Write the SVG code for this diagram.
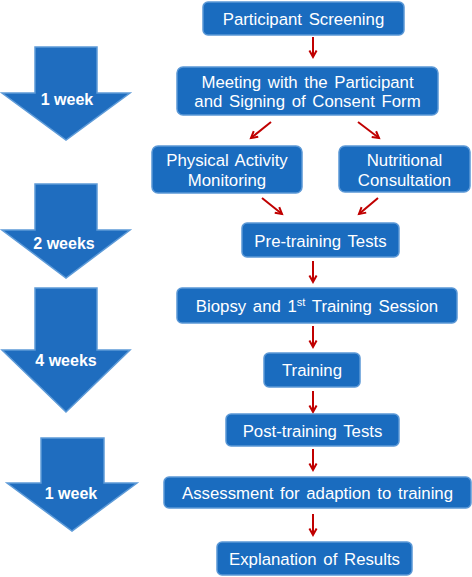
<svg xmlns="http://www.w3.org/2000/svg" width="472" height="577" viewBox="0 0 472 577">
<style>
.box{fill:#1a6cbf;stroke:#5b98d6;stroke-width:1.5}
.t{font-family:"Liberation Sans",Arial,sans-serif;font-size:16.8px;fill:#fff;text-anchor:middle;word-spacing:2px}
.big{fill:#1f6dbf;stroke:#5e9bd8;stroke-width:1.5}
.bl{font-family:"Liberation Sans",Arial,sans-serif;font-size:16px;font-weight:bold;fill:#fff;text-anchor:middle}
.c{stroke:#c00000;stroke-width:2;fill:none;marker-end:url(#ah)}
</style>
<defs>
<marker id="ah" viewBox="0 0 10 10" refX="8" refY="5" markerWidth="8" markerHeight="10" markerUnits="userSpaceOnUse" orient="auto" overflow="visible">
<path d="M0,0.5 L8,5 L0,9.5" fill="none" stroke="#c00000" stroke-width="2.5"/>
</marker>
</defs>
<g id="timeline">
<g id="w1a"><polygon class="big" points="35,47 97,47 97,93 130,93 66,140 2,93 35,93"/><text class="bl" x="67" y="105">1 week</text></g>
<g id="w2"><polygon class="big" points="35,184 97,184 97,230 130,230 66,278 2,230 35,230"/><text class="bl" x="64" y="249">2 weeks</text></g>
<g id="w4"><polygon class="big" points="35,288 97,288 97,350 130,350 66,412 2,350 35,350"/><text class="bl" x="66" y="366">4 weeks</text></g>
<g id="w1b"><polygon class="big" points="41,438 104,438 104,483 137,483 72,531 7,483 41,483"/><text class="bl" x="71" y="499">1 week</text></g>
</g>
<g id="connectors">
<line class="c" x1="313" y1="37" x2="313" y2="57"/>
<line class="c" x1="271" y1="122" x2="251" y2="138"/>
<line class="c" x1="358" y1="122" x2="379" y2="138"/>
<line class="c" x1="262" y1="198" x2="282" y2="214"/>
<line class="c" x1="378" y1="198" x2="359" y2="214"/>
<line class="c" x1="313" y1="261" x2="313" y2="282"/>
<line class="c" x1="313" y1="326" x2="313" y2="347"/>
<line class="c" x1="313" y1="391" x2="313" y2="412"/>
<line class="c" x1="313" y1="449" x2="313" y2="470"/>
<line class="c" x1="313" y1="514" x2="313" y2="535"/>
</g>
<g id="n1"><rect class="box" x="203" y="2" width="201" height="33" rx="5"/><text class="t" x="303.5" y="24.5">Participant Screening</text></g>
<g id="n2"><rect class="box" x="177" y="67" width="261" height="48" rx="6"/><text class="t" x="307.5" y="87.5">Meeting with the Participant</text><text class="t" x="307.5" y="106.5">and Signing of Consent Form</text></g>
<g id="n3"><rect class="box" x="152" y="146" width="150" height="47" rx="6"/><text class="t" x="227" y="165.5">Physical Activity</text><text class="t" x="227" y="185.5">Monitoring</text></g>
<g id="n4"><rect class="box" x="339" y="146" width="131" height="46" rx="6"/><text class="t" x="404.5" y="165.5">Nutritional</text><text class="t" x="404.5" y="185.5">Consultation</text></g>
<g id="n5"><rect class="box" x="242" y="223" width="157" height="34" rx="5"/><text class="t" x="320.5" y="247">Pre-training Tests</text></g>
<g id="n6"><rect class="box" x="177" y="288" width="280" height="35" rx="5"/><text class="t" x="317" y="312">Biopsy and 1<tspan font-size="11" dy="-6">st</tspan><tspan dy="6"> Training Session</tspan></text></g>
<g id="n7"><rect class="box" x="264" y="353" width="96" height="34" rx="5"/><text class="t" x="312" y="376">Training</text></g>
<g id="n8"><rect class="box" x="226" y="414" width="173" height="32" rx="5"/><text class="t" x="312.5" y="436.5">Post-training Tests</text></g>
<g id="n9"><rect class="box" x="164" y="477" width="307" height="31" rx="5"/><text class="t" x="317.5" y="498.5">Assessment for adaption to training</text></g>
<g id="n10"><rect class="box" x="217" y="542" width="195" height="33" rx="5"/><text class="t" x="314.5" y="564.5">Explanation of Results</text></g>
</svg>
